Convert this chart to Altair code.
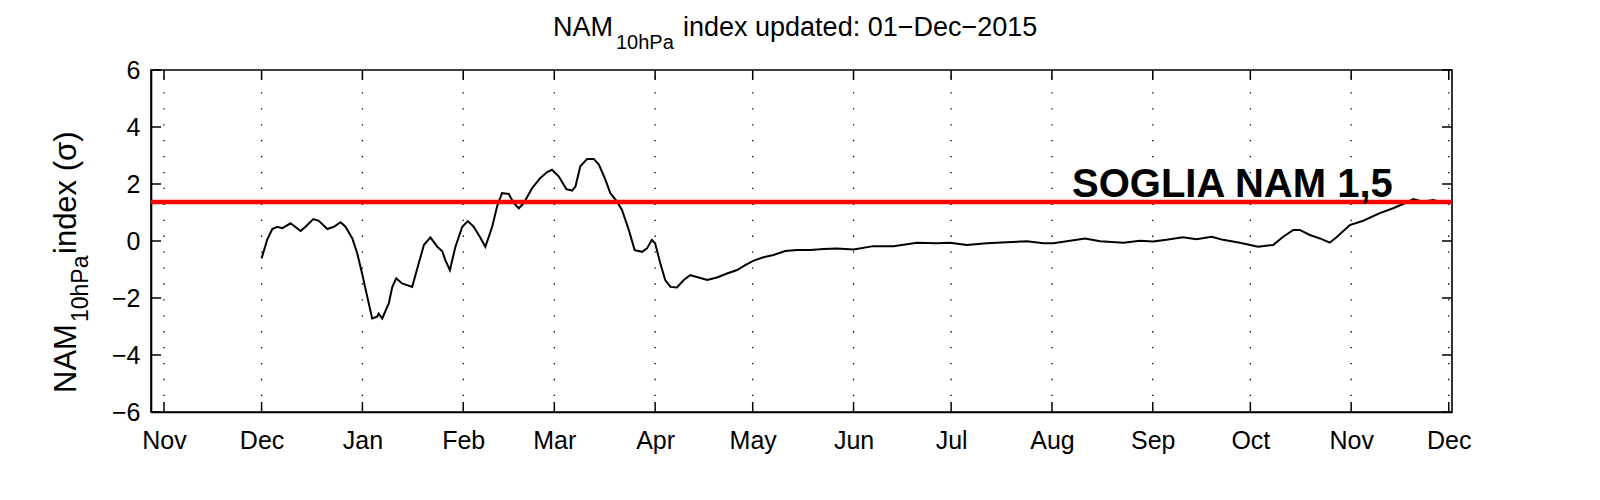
import altair as alt
import pandas as pd

# ---------------- data ----------------
BASE_DATE = "2014-12-01"
# days since 1 Dec 2014
day = [0, 1.7, 3.3, 4.8, 6.4, 8.9, 12, 13.5, 15.9, 17.6, 20.2, 22.2, 24.3, 25.8,
       27.9, 29.4, 30.9, 32.5, 34, 35.5, 36, 37.1, 39.1, 40.2, 41.4, 43.2, 46.3,
       48.3, 49.9, 51.9, 54, 55.5, 56.5, 57.9, 59.6, 61.7, 63.4, 65.2, 67.1, 68.8,
       70.9, 72.4, 73.9, 76, 77.5, 79.1, 80.6, 83.2, 85.7, 87.8, 89.3, 91.4, 93.7,
       95.5, 96.5, 98, 100.1, 102.1, 103.7, 105.7, 107.2, 109.3, 110.8, 112.9,
       114.7, 117, 118.5, 120, 121, 122.6, 124.1, 125.7, 127.7, 129.8, 131.8,
       134.4, 137, 140, 143.1, 146.2, 148.7, 151.3, 154.3, 157.4, 161, 164.6,
       168.7, 172.8, 176.9, 182, 188.1, 194.3, 201.5, 207.6, 211.7, 216.8, 223,
       229.1, 235.3, 240.4, 243.4, 248.6, 253.2, 257.8, 265, 270.1, 274.1, 278.2,
       283.3, 287.4, 292.1, 295.6, 300.8, 306.4, 311, 314.1, 317.2, 319.2, 322.3,
       325.4, 328.4, 330.5, 334.6, 338.7, 343.8, 347.9, 352, 354.1, 357.1, 360.2,
       362.3]
nam = [-0.61, 0.04, 0.42, 0.50, 0.45, 0.62, 0.35, 0.50, 0.77, 0.71, 0.42, 0.50,
       0.66, 0.50, 0.09, -0.43, -1.14, -1.96, -2.72, -2.66, -2.55, -2.72, -2.19,
       -1.61, -1.31, -1.49, -1.61, -0.79, -0.14, 0.13, -0.20, -0.35, -0.67, -1.02,
       -0.20, 0.50, 0.70, 0.50, 0.15, -0.20, 0.50, 1.21, 1.68, 1.65, 1.33, 1.15,
       1.33, 1.86, 2.21, 2.42, 2.50, 2.26, 1.82, 1.77, 1.91, 2.62, 2.88, 2.88,
       2.68, 2.15, 1.68, 1.38, 1.09, 0.39, -0.32, -0.38, -0.26, 0.04, -0.08,
       -0.79, -1.37, -1.61, -1.63, -1.37, -1.20, -1.28, -1.37, -1.28, -1.14,
       -1.02, -0.85, -0.69, -0.57, -0.49, -0.35, -0.32, -0.32, -0.28, -0.26,
       -0.30, -0.18, -0.18, -0.06, -0.08, -0.06, -0.14, -0.08, -0.04, -0.01,
       -0.08, -0.08, 0.01, 0.09, -0.01, -0.06, 0.01, -0.02, 0.04, 0.13, 0.06,
       0.15, 0.04, -0.06, -0.20, -0.14, 0.15, 0.39, 0.39, 0.21, 0.09, -0.06,
       0.13, 0.56, 0.71, 0.98, 1.15, 1.35, 1.47, 1.38, 1.44, 1.38]

month_ticks = [(2014, 11), (2014, 12), (2015, 1), (2015, 2), (2015, 3), (2015, 4),
               (2015, 5), (2015, 6), (2015, 7), (2015, 8), (2015, 9), (2015, 10),
               (2015, 11), (2015, 12)]
y_ticks = [-6, -4, -2, 0, 2, 4, 6]
threshold = [1.37]

title_main = "NAM"
title_sub = "10hPa"
title_rest = "index updated: 01\u2212Dec\u22122015"
ylab_main = "NAM"
ylab_sub = "10hPa"
ylab_rest = " index (\u03c3)"
note_text = "SOGLIA NAM 1,5"

# ---------------- tables ----------------
FONT = "Liberation Sans"
W, H = 1301, 342

dates = pd.Timestamp(BASE_DATE) + pd.to_timedelta(day, unit="D")
series = pd.DataFrame({"date": [d.strftime("%Y-%m-%dT%H:%M:%SZ") for d in dates],
                       "v": nam})
months = pd.DataFrame({"date": [f"{y:04d}-{m:02d}-01T00:00:00Z" for y, m in month_ticks]})
yt = pd.DataFrame({"v": y_ticks})
thr = pd.DataFrame({"v": threshold})
one = pd.DataFrame({"k": [0]})

month_dt = [alt.DateTime(year=y, month=m, date=1, utc=True) for y, m in month_ticks]

X_ENC = alt.X(
    "date:T",
    scale=alt.Scale(type="utc",
                    domain=[alt.DateTime(year=2014, month=10, date=28, utc=True),
                            alt.DateTime(year=2015, month=12, date=2, utc=True)]),
    axis=alt.Axis(values=month_dt, labelExpr="utcFormat(datum.value, '%b')",
                  title="", ticks=False, grid=False, labelFontSize=25,
                  labelFont=FONT, labelColor="black", labelPadding=16,
                  labelFlush=False, labelOverlap=False,
                  domainColor="black", domainWidth=1.6),
)
Y_ENC = alt.Y(
    "v:Q",
    scale=alt.Scale(domain=[-6, 6], nice=False, zero=False),
    axis=alt.Axis(values=y_ticks, title="", ticks=False, grid=False,
                  labelFontSize=25, labelFont=FONT, labelColor="black",
                  labelPadding=11, labelOverlap=False,
                  domainColor="black", domainWidth=1.6),
)

grid = alt.Chart(months).mark_rule(color="black", strokeWidth=1.3,
                                   strokeDash=[1.3, 14.62]).encode(
    x=X_ENC, y=alt.value(H), y2=alt.value(0))
tick_b = alt.Chart(months).mark_rule(color="black", strokeWidth=1.5).encode(
    x=X_ENC, y=alt.value(H), y2=alt.value(H - 10))
tick_t = alt.Chart(months).mark_rule(color="black", strokeWidth=1.5).encode(
    x=X_ENC, y=alt.value(0), y2=alt.value(10))
tick_l = alt.Chart(yt).mark_rule(color="black", strokeWidth=1.5).encode(
    y=Y_ENC, x=alt.value(0), x2=alt.value(10))
tick_r = alt.Chart(yt).mark_rule(color="black", strokeWidth=1.5).encode(
    y=Y_ENC, x=alt.value(W - 10), x2=alt.value(W))

line = alt.Chart(series).mark_line(color="black", strokeWidth=2).encode(
    x=X_ENC, y=Y_ENC)
red = alt.Chart(thr).mark_rule(color="#ff0000", strokeWidth=4.5).encode(y=Y_ENC)


def txt(s, x, y, size, angle=0, weight="normal"):
    return alt.Chart(one).mark_text(
        text=s, font=FONT, fontSize=size, fontWeight=weight, color="black",
        align="left", baseline="alphabetic", angle=angle,
    ).encode(x=alt.value(x), y=alt.value(y))


texts = [
    txt(title_main, 402, -34, 27),
    txt(title_sub, 465, -21, 20),
    txt(title_rest, 532, -34, 27),
    txt(ylab_main, -75, 323, 31, angle=270),
    txt(ylab_sub, -63, 252, 23, angle=270),
    txt(ylab_rest, -75, 184, 31, angle=270),
    txt(note_text, 921, 127, 40, weight="bold"),
]

chart = alt.layer(grid, tick_b, tick_t, tick_l, tick_r, line, red, *texts).properties(
    width=W, height=H,
    padding={"left": 143, "top": 62, "right": 100, "bottom": 70},
    autosize=alt.AutoSizeParams(type="none"),
    background="white",
).configure_view(stroke="black", strokeWidth=1.6)

chart.save("out.html", embed_options={"renderer": "svg", "actions": False})
